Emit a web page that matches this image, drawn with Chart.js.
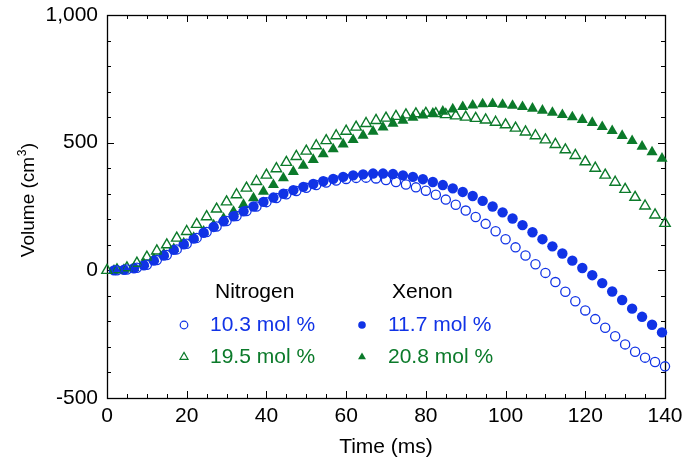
<!DOCTYPE html>
<html>
<head>
<meta charset="utf-8">
<script src="https://cdn.jsdelivr.net/npm/chart.js@4.4.1/dist/chart.umd.min.js"></script>
<style>
  html, body { margin: 0; padding: 0; background: #fff; }
  #wrap { width: 685px; height: 465px; }
</style>
</head>
<body>
<div id="wrap"><canvas id="chart" width="685" height="465"></canvas></div>
<script>
// time stamps (ms)
const openTimes = [0, 2.5, 5, 7.5, 10, 12.5, 15, 17.5, 20, 22.5, 25, 27.5, 30, 32.5, 35, 37.5, 40, 42.5, 45, 47.5,
    50, 52.5, 55, 57.5, 60, 62.5, 65, 67.5, 70, 72.5, 75, 77.5, 80, 82.5, 85, 87.5, 90, 92.5, 95, 97.5,
    100, 102.5, 105, 107.5, 110, 112.5, 115, 117.5, 120, 122.5, 125, 127.5, 130, 132.5, 135, 137.5, 140];
const filledTimes = [1.75, 4.25, 6.75, 9.25, 11.75, 14.25, 16.75, 19.25, 21.75, 24.25, 26.75, 29.25, 31.75, 34.25,
    36.75, 39.25, 41.75, 44.25, 46.75, 49.25, 51.75, 54.25, 56.75, 59.25, 61.75, 64.25, 66.75, 69.25, 71.75,
    74.25, 76.75, 79.25, 81.75, 84.25, 86.75, 89.25, 91.75, 94.25, 96.75, 99.25, 101.75, 104.25, 106.75,
    109.25, 111.75, 114.25, 116.75, 119.25, 121.75, 124.25, 126.75, 129.25, 131.75, 134.25, 136.75, 139.25];

// volume (cm3)
const n2Low = [null, 0, 3, 10, 22, 40, 60, 82, 104, 127, 150, 172, 193, 213, 232, 250, 267, 283, 298, 311,
    323, 334, 344, 352, 358, 362, 363, 360, 354, 346, 336, 325, 312, 296, 277, 257, 234, 209, 182, 153,
    122, 90, 58, 24, -10, -46, -84, -121, -157, -191, -225, -258, -290, -319, -342, -359, -376];
const n2High = [0, 2, 10, 28, 52, 76, 100, 126, 152, 180, 210, 240, 268, 296, 322, 348, 373, 398, 423, 446,
    467, 488, 508, 527, 545, 561, 575, 587, 596, 603, 609, 613, 615, 614, 610, 605, 600, 595, 589, 580,
    570, 557, 542, 527, 511, 493, 472, 450, 425, 400, 373, 345, 317, 286, 252, 217, 184];
const xeLow = [0, 2, 8, 20, 38, 58, 80, 102, 124, 147, 170, 192, 212, 231, 250, 268, 285, 300, 314, 327,
    338, 349, 358, 366, 372, 376, 379, 379, 377, 372, 366, 357, 346, 334, 321, 307, 291, 272, 250, 227,
    203, 177, 149, 122, 94, 66, 38, 9, -19, -50, -83, -116, -150, -182, -213, -243];
const xeHigh = [0, 3, 10, 26, 45, 64, 84, 106, 128, 152, 177, 203, 230, 257, 283, 309, 335, 361, 386, 410,
    433, 455, 475, 494, 511, 528, 544, 560, 575, 587, 598, 607, 615, 622, 631, 640, 646, 651, 652, 649,
    645, 640, 634, 626, 618, 609, 600, 590, 578, 562, 546, 527, 507, 485, 463, 438];

const xTicks = [0, 20, 40, 60, 80, 100, 120, 140];
const yTicks = [-500, 0, 500, 1000];

const BLUE = '#1133e6';
const GREEN = '#0b7a2a';
const FONT = 'Liberation Sans, Arial, sans-serif';

function pts(times, vals) {
    return times.map((t, i) => ({ x: t, y: vals[i] })).filter(p => p.y !== null);
}

// inward ticks on all four sides plus the frame
const framePlugin = {
    id: 'frame',
    beforeDatasetsDraw(chart) {
        const { ctx, chartArea: a, scales: { x, y } } = chart;
        ctx.save();
        ctx.strokeStyle = '#000';
        ctx.lineWidth = 1;
        ctx.beginPath();
        for (let v = 0; v <= 140; v += 5) {
            const px = Math.round(x.getPixelForValue(v)) + 0.5;
            const len = v % 20 === 0 ? 7 : 4;
            ctx.moveTo(px, a.bottom); ctx.lineTo(px, a.bottom - len);
            ctx.moveTo(px, a.top); ctx.lineTo(px, a.top + len);
        }
        for (let v = -500; v <= 1000; v += 100) {
            const py = Math.round(y.getPixelForValue(v)) + 0.5;
            const len = v % 500 === 0 ? 7 : 4;
            ctx.moveTo(a.left, py); ctx.lineTo(a.left + len, py);
            ctx.moveTo(a.right, py); ctx.lineTo(a.right - len, py);
        }
        ctx.stroke();
        ctx.lineWidth = 1.3;
        ctx.strokeRect(Math.round(a.left) + 0.5, Math.round(a.top) + 0.5,
            Math.round(a.right - a.left), Math.round(a.bottom - a.top));
        ctx.restore();
    }
};

// y title with a real superscript
const yTitlePlugin = {
    id: 'yTitle',
    afterDraw(chart) {
        const ctx = chart.ctx;
        const main = '19px ' + FONT, sup = '12px ' + FONT;
        ctx.save();
        ctx.font = main;
        const w1 = ctx.measureText('Volume (cm').width;
        const w3 = ctx.measureText(')').width;
        ctx.font = sup;
        const w2 = ctx.measureText('3').width + 1;
        const total = w1 + w2 + w3;
        ctx.translate(34, 200);
        ctx.rotate(-Math.PI / 2);
        ctx.fillStyle = '#000';
        ctx.textBaseline = 'alphabetic';
        ctx.textAlign = 'left';
        let x = -total / 2;
        ctx.font = main;
        ctx.fillText('Volume (cm', x, 0);
        x += w1;
        ctx.font = sup;
        ctx.fillText('3', x + 0.5, -8);
        x += w2;
        ctx.font = main;
        ctx.fillText(')', x, 0);
        ctx.restore();
    }
};

function drawMarker(ctx, style, cx, cy, color, filled) {
    ctx.beginPath();
    if (style === 'circle') {
        ctx.arc(cx, cy, 3.8, 0, Math.PI * 2);
    } else {
        const r = 4.6;
        ctx.moveTo(cx, cy - r);
        ctx.lineTo(cx + r * 0.866, cy + r * 0.5);
        ctx.lineTo(cx - r * 0.866, cy + r * 0.5);
        ctx.closePath();
    }
    if (filled) { ctx.fillStyle = color; ctx.fill(); }
    else { ctx.strokeStyle = color; ctx.lineWidth = 1.2; ctx.stroke(); }
}

// two-column legend inside the plot
const legendPlugin = {
    id: 'gasLegend',
    afterDraw(chart) {
        const ctx = chart.ctx;
        ctx.save();
        ctx.font = '21px ' + FONT;
        ctx.textBaseline = 'middle';
        ctx.textAlign = 'left';
        ctx.fillStyle = '#000';
        ctx.fillText('Nitrogen', 215, 292);
        ctx.fillText('Xenon', 392, 292);
        const rows = [
            ['circle', false, BLUE, '10.3 mol %', 184, 210, 325],
            ['triangle', false, GREEN, '19.5 mol %', 184, 210, 357],
            ['circle', true, BLUE, '11.7 mol %', 362, 388, 325],
            ['triangle', true, GREEN, '20.8 mol %', 362, 388, 357]
        ];
        rows.forEach(([style, filled, color, label, mx, tx, ty]) => {
            drawMarker(ctx, style, mx, ty, color, filled);
            ctx.fillStyle = color;
            ctx.fillText(label, tx, ty);
        });
        ctx.restore();
    }
};

new Chart(document.getElementById('chart'), {
    type: 'scatter',
    data: {
        datasets: [
            { label: 'Nitrogen 10.3 mol %', data: pts(openTimes, n2Low), pointStyle: 'circle',
              pointRadius: 4.6, borderColor: BLUE, backgroundColor: 'rgba(0,0,0,0)', borderWidth: 1.3, clip: false },
            { label: 'Nitrogen 19.5 mol %', data: pts(openTimes, n2High), pointStyle: 'triangle',
              pointRadius: 6, borderColor: GREEN, backgroundColor: 'rgba(0,0,0,0)', borderWidth: 1.4, clip: false },
            { label: 'Xenon 11.7 mol %', data: pts(filledTimes, xeLow), pointStyle: 'circle',
              pointRadius: 5.2, borderColor: BLUE, backgroundColor: BLUE, borderWidth: 0, clip: false },
            { label: 'Xenon 20.8 mol %', data: pts(filledTimes, xeHigh), pointStyle: 'triangle',
              pointRadius: 6.4, borderColor: GREEN, backgroundColor: GREEN, borderWidth: 0, clip: false }
        ]
    },
    options: {
        responsive: false,
        animation: false,
        events: [],
        layout: { padding: { left: 0, right: 20, top: 15, bottom: 0 } },
        plugins: { legend: { display: false }, tooltip: { enabled: false } },
        scales: {
            x: {
                type: 'linear', min: 0, max: 140,
                afterFit: s => { s.height = 67; s.paddingLeft = 0; s.paddingRight = 0; },
                afterBuildTicks: s => { s.ticks = xTicks.map(v => ({ value: v })); },
                grid: { display: false, drawTicks: false },
                border: { display: false },
                ticks: { color: '#000', padding: 6, font: { family: FONT, size: 21 } },
                title: { display: true, text: 'Time (ms)', color: '#000',
                         padding: { top: 0, bottom: 5 }, font: { family: FONT, size: 21 } }
            },
            y: {
                type: 'linear', min: -500, max: 1000,
                afterFit: s => { s.width = 107; s.paddingTop = 0; s.paddingBottom = 0; },
                afterBuildTicks: s => { s.ticks = yTicks.map(v => ({ value: v })); },
                grid: { display: false, drawTicks: false },
                border: { display: false },
                ticks: { color: '#000', padding: 9, font: { family: FONT, size: 21 } }
            }
        }
    },
    plugins: [framePlugin, legendPlugin, yTitlePlugin]
});
</script>
</body>
</html>
